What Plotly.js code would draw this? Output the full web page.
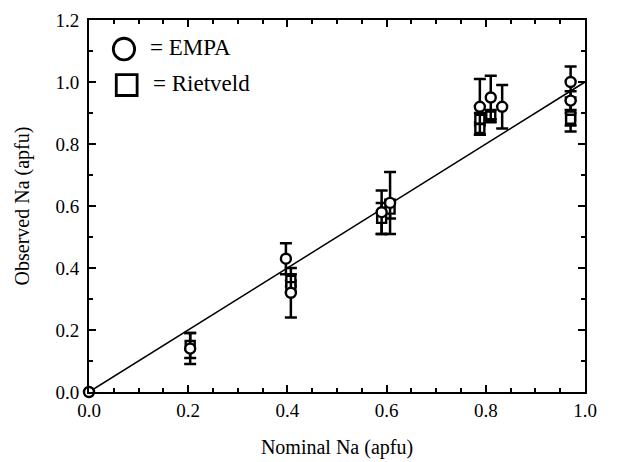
<!DOCTYPE html>
<html><head><meta charset="utf-8">
<script src="https://cdn.plot.ly/plotly-3.0.1.min.js"></script>
<style>body{margin:0;background:#fff}#c{width:618px;height:462px}</style>
</head><body><div id="c"></div>
<script>
// EMPA (circles)
const empaX   = [0.0, 0.204, 0.397, 0.407, 0.590, 0.607, 0.788, 0.810, 0.833, 0.971, 0.971];
const empaY   = [0.0, 0.14, 0.43, 0.32, 0.58, 0.61, 0.92, 0.95, 0.92, 1.00, 0.94];
const empaErr = [0.0, 0.05, 0.05, 0.08, 0.07, 0.10, 0.09, 0.07, 0.07, 0.05, 0.03];
// Rietveld (squares)
const rietX   = [0.204, 0.407, 0.407, 0.590, 0.607, 0.788, 0.788, 0.810, 0.971, 0.971];
const rietY   = [0.15, 0.36, 0.34, 0.56, 0.59, 0.88, 0.85, 0.89, 0.89, 0.88];
const rietErr = [0.04, 0.02, 0.02, 0.05, 0.03, 0.02, 0.02, 0.02, 0.05, 0.02];
// 1:1 line
const lineX = [0, 1];
const lineY = [0, 1];

const font = {family: '"Liberation Serif","Times New Roman",serif', color: '#000'};

const traces = [
  {x: lineX, y: lineY, mode: 'lines', line: {color: '#000', width: 1.5}, hoverinfo: 'skip'},
  {x: rietX, y: rietY, mode: 'markers', cliponaxis: false,
   marker: {symbol: 'square', size: 9, color: '#fff', line: {color: '#000', width: 2.4}},
   error_y: {type: 'data', array: rietErr, visible: true, color: '#000', thickness: 2.5, width: 6}},
  {x: empaX, y: empaY, mode: 'markers', cliponaxis: false,
   marker: {symbol: 'circle', size: 10, color: '#fff', line: {color: '#000', width: 2.4}},
   error_y: {type: 'data', array: empaErr, visible: true, color: '#000', thickness: 2.5, width: 6}}
];

const axisCommon = {
  showline: true, linewidth: 2, linecolor: '#000', mirror: 'ticks',
  ticks: 'inside', ticklen: 7, tickwidth: 2, tickcolor: '#000',
  showgrid: false, zeroline: false,
  tickfont: Object.assign({size: 19}, font)
};

const layout = {
  width: 618, height: 462,
  margin: {l: 89, r: 33, t: 20, b: 70},
  paper_bgcolor: '#fff', plot_bgcolor: '#fff',
  showlegend: false,
  xaxis: Object.assign({}, axisCommon, {
    range: [0, 1.0], tick0: 0, dtick: 0.2, tickformat: '.1f',
    minor: {dtick: 0.05, ticks: 'inside', ticklen: 4, tickwidth: 2, tickcolor: '#000'},
    title: {text: 'Nominal Na (apfu)', font: Object.assign({size: 20}, font), standoff: 20}
  }),
  yaxis: Object.assign({}, axisCommon, {
    range: [0, 1.2], tick0: 0, dtick: 0.2, tickformat: '.1f', ticklabelstandoff: 4,
    minor: {dtick: 0.1, ticks: 'inside', ticklen: 4, tickwidth: 2, tickcolor: '#000'},
    title: {text: 'Observed Na (apfu)', font: Object.assign({size: 20}, font), standoff: 20}
  }),
  shapes: [
    {type: 'circle', xref: 'paper', yref: 'paper', x0: 0.049, x1: 0.092, y0: 0.893, y1: 0.951,
     line: {color: '#000', width: 2.8}, fillcolor: '#fff'},
    {type: 'rect', xref: 'paper', yref: 'paper', x0: 0.055, x1: 0.097, y0: 0.797, y1: 0.853,
     line: {color: '#000', width: 2.8}, fillcolor: '#fff'}
  ],
  annotations: [
    {xref: 'paper', yref: 'paper', x: 0.118, y: 0.925, xanchor: 'left', yanchor: 'middle',
     text: '= EMPA', showarrow: false, font: Object.assign({size: 23}, font)},
    {xref: 'paper', yref: 'paper', x: 0.125, y: 0.828, xanchor: 'left', yanchor: 'middle',
     text: '= Rietveld', showarrow: false, font: Object.assign({size: 23}, font)}
  ]
};

Plotly.newPlot('c', traces, layout, {displayModeBar: false, staticPlot: true});
</script>
</body></html>
